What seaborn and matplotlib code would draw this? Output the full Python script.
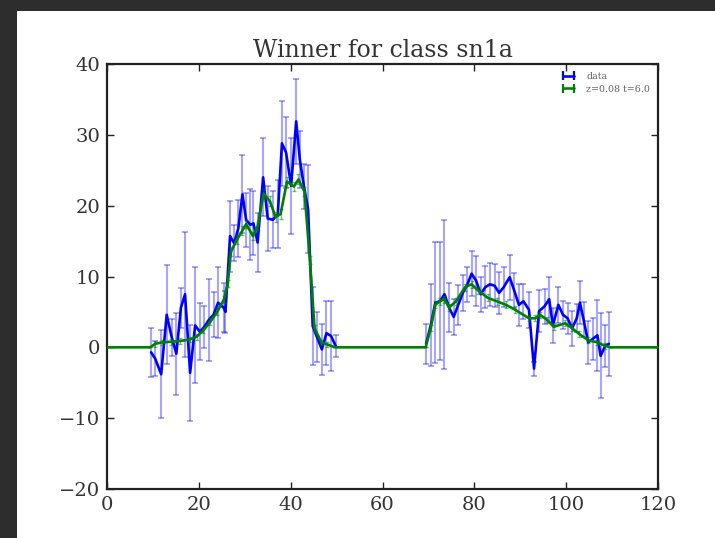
import matplotlib
matplotlib.use("Agg")
import matplotlib.pyplot as plt
from matplotlib.patches import Rectangle
import pandas as pd
import seaborn as sns

# Observed light curve (days, flux, 1-sigma error)
obs_day = [9.6, 10.5, 11.8, 13.0, 14.1, 15.1, 16.1, 17.0, 18.1, 19.2, 20.2, 21.2, 22.2,
           23.2, 24.2, 25.4, 25.8, 26.8, 27.7, 28.6, 29.5, 30.3, 31.2, 31.9, 32.8, 34.0,
           35.0, 36.1, 37.2, 38.1, 39.0, 40.1, 41.2, 42.0, 42.9, 43.8, 44.8, 45.7, 46.8,
           47.8, 48.8, 49.8,
           69.5, 70.5, 71.5, 72.5, 73.5, 74.5, 75.5, 76.5, 77.5, 78.5, 79.4, 80.4, 81.4,
           82.4, 83.4, 84.4, 85.4, 86.4, 87.7, 88.7, 89.7, 90.7, 91.9, 93.0, 94.1, 95.3,
           96.3, 97.1, 98.3, 99.3, 100.3, 101.3, 102.3, 103.0, 103.8, 104.8, 105.8, 106.8,
           107.5, 108.5, 109.3]
obs_flux = [-0.7, -1.6, -3.8, 4.6, 1.4, -0.9, 5.6, 7.5, -3.6, 3.1, 2.2, 2.9, 3.9,
            4.6, 6.3, 5.6, 5.0, 15.7, 14.7, 16.8, 21.6, 18.0, 17.3, 17.5, 14.8, 24.0,
            18.2, 18.0, 18.8, 28.8, 27.5, 22.8, 31.9, 26.5, 22.7, 19.5, 3.0, 1.5, -0.3,
            2.0, 1.6, 0.2,
            0.5, 3.1, 6.3, 6.5, 7.5, 5.6, 4.3, 6.0, 7.7, 8.9, 10.4, 9.4, 7.5,
            8.5, 8.9, 8.7, 7.7, 8.5, 9.9, 8.0, 6.0, 6.5, 5.3, -3.0, 5.1, 5.8,
            6.8, 3.1, 6.0, 4.6, 4.1, 2.7, 4.1, 6.3, 3.9, 0.7, 1.2, 1.7,
            -1.2, 0.2, 0.5]
obs_err = [3.5, 2.5, 6.2, 7.0, 2.6, 5.8, 2.8, 8.8, 6.8, 8.2, 4.0, 3.0, 5.8,
           3.2, 5.0, 3.5, 3.0, 5.0, 2.5, 4.0, 5.5, 3.8, 5.0, 4.5, 4.2, 5.5,
           4.6, 4.0, 4.8, 6.0, 5.0, 6.8, 6.0, 4.0, 3.2, 6.2, 5.5, 3.5, 3.6,
           4.5, 5.0, 1.5,
           2.8, 5.8, 8.5, 8.3, 10.5, 3.5, 2.5, 2.8, 2.5, 2.5, 3.2, 3.5, 2.5,
           3.0, 3.0, 3.0, 3.0, 2.8, 3.2, 2.5, 3.0, 2.5, 2.5, 1.0, 3.0, 2.5,
           3.2, 2.5, 2.5, 2.0, 2.2, 2.5, 2.0, 3.0, 2.5, 3.0, 3.0, 5.0,
           6.0, 3.0, 4.5]

# Best-fitting template (z=0.08, t=6.0)
model_day = [0, 9.4, 10.5, 12, 14, 16, 18, 19.5, 21, 22.5, 24, 25.5, 26.3, 27, 28.3,
             29.5, 30.3, 31.8, 32.8, 34.1, 35.5, 36.7, 37.8, 39.2, 40.7, 41.7, 43, 44.2,
             45.2, 46.7, 48, 49.7, 69.4, 70.5, 71.5, 72.5, 73.5, 74.5, 76, 78, 79.4,
             80.9, 82.9, 84.9, 86.9, 88.9, 91.9, 93.3, 94.3, 95.8, 97.3, 99.8, 101.3,
             102.8, 104.8, 106.8, 108.5, 109.7, 120]
model_flux = [0, 0, 0.5, 0.7, 0.8, 0.9, 1.1, 1.5, 2.4, 3.6, 5.0, 6.8, 9.0, 13.5, 15.2,
              16.5, 17.4, 15.7, 17.1, 21.7, 20.6, 18.4, 18.8, 23.4, 22.7, 23.7, 22.0, 12.3,
              2.7, 0.7, 0.4, 0, 0, 2.7, 6.0, 6.5, 6.8, 5.6, 6.5, 8.5, 8.9,
              8.0, 7.0, 6.5, 6.0, 5.3, 4.1, 4.1, 4.6, 3.9, 2.9, 3.4, 2.7,
              1.9, 1.0, 0.7, 0.2, 0, 0]
model_err = [0, 0, 0.4, 0.4, 0.4, 0.4, 0.4, 0.4, 0.4, 0.5, 0.5, 0.5, 0.5, 0.6, 0.6,
             0.6, 0.6, 0.6, 0.6, 0.7, 0.7, 0.7, 0.7, 0.7, 0.7, 0.7, 0.7, 0.6,
             0.4, 0.4, 0.4, 0, 0, 0.4, 0.5, 0.5, 0.5, 0.5, 0.5, 0.5, 0.5,
             0.5, 0.5, 0.5, 0.5, 0.5, 0.4, 0.4, 0.4, 0.4, 0.4, 0.4, 0.4,
             0.4, 0.4, 0.4, 0.4, 0, 0]

data_label = "data"
model_label = "z=0.08 t=6.0"

obs = pd.DataFrame({"day": obs_day, "flux": obs_flux, "err": obs_err})
# two observing seasons, drawn as separate strokes
obs["season"] = (obs["day"] > 60).astype(int)
model = pd.DataFrame({"day": model_day, "flux": model_flux, "err": model_err})

sns.set_theme(style="ticks")
plt.rcParams["font.family"] = ["DejaVu Serif", "DejaVu Sans"]
plt.rcParams["axes.unicode_minus"] = True

W, H = 715, 538
fig = plt.figure(figsize=(W / 100, H / 100), dpi=100, facecolor="#2d2d2d")
fig.add_artist(Rectangle((17 / W, 0), 1, (H - 11) / H, transform=fig.transFigure,
                         facecolor="white", edgecolor="none", zorder=0))
ax = fig.add_axes([107 / W, 49 / H, 551 / W, 425 / H])
ax.set_facecolor("white")

# error bars of the observations
ax.errorbar(obs["day"], obs["flux"], yerr=obs["err"], fmt="none", ecolor="blue",
            alpha=0.35, elinewidth=1.5, capsize=2.2, capthick=1.4, zorder=2)
sns.lineplot(data=obs, x="day", y="flux", units="season", sort=False, estimator=None,
             color="blue", linewidth=1.9, ax=ax, zorder=3)

# template curve
ax.errorbar(model["day"], model["flux"], yerr=model["err"], fmt="none", ecolor="green",
            alpha=0.5, elinewidth=1.0, capsize=1.5, capthick=1.0, zorder=4)
sns.lineplot(data=model, x="day", y="flux", sort=False, estimator=None, color="green",
             linewidth=1.9, ax=ax, zorder=5)

# legend entries: line with error glyphs in full colour
eb_data = ax.errorbar([], [], yerr=[], fmt="-", color="blue", lw=1.9, elinewidth=1.6,
                      capsize=2.2, capthick=1.6)
eb_model = ax.errorbar([], [], yerr=[], fmt="-", color="green", lw=1.9, elinewidth=1.6,
                       capsize=2.2, capthick=1.6)
ax.legend([eb_data, eb_model], [data_label, model_label], numpoints=2,
          loc="upper right", frameon=False, fontsize=6.8, handlelength=1.7,
          handletextpad=1.0, labelspacing=0.4, borderaxespad=0.45,
          labelcolor="#666666")

ax.set_xlim(0, 120)
ax.set_ylim(-20, 40)
ax.set_xticks([0, 20, 40, 60, 80, 100, 120])
ax.set_yticks([-20, -10, 0, 10, 20, 30, 40])
ax.set_xlabel("")
ax.set_ylabel("")
ax.tick_params(direction="in", top=True, right=True, length=5, width=1,
               labelsize=14, pad=5, colors="#222222", labelcolor="#333333")
for sp in ax.spines.values():
    sp.set_visible(True)
    sp.set_linewidth(1.6)
    sp.set_color("#222222")
ax.set_title("Winner for class sn1a", fontsize=17, pad=5, color="#333333")

fig.savefig("out.png", dpi=100, facecolor=fig.get_facecolor())
